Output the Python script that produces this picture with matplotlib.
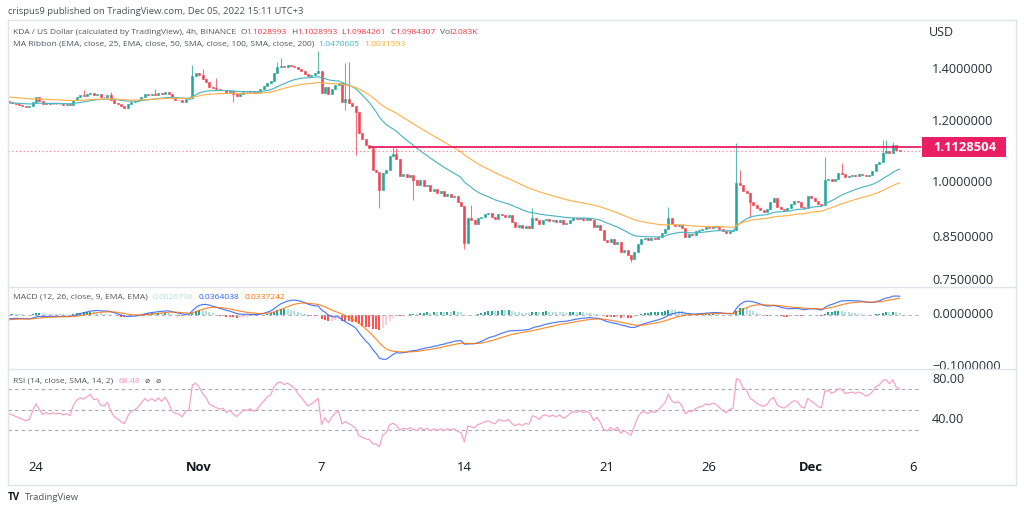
import numpy as np
import pandas as pd
import matplotlib
matplotlib.use("Agg")
import matplotlib.pyplot as plt
from matplotlib.transforms import blended_transform_factory as btf, Bbox
from matplotlib.lines import Line2D
from matplotlib.patches import Rectangle

# ---------------- data ----------------
START = "2022-10-22 16:00"          # first 4h candle
OPEN_FIRST = 1.275
CLOSES = [
    1.272, 1.268,                                   # Oct 22
    1.264, 1.260, 1.256, 1.252, 1.254, 1.270,       # Oct 23
    1.288, 1.275, 1.262, 1.266, 1.262, 1.265,       # Oct 24
    1.262, 1.264, 1.260, 1.262, 1.258, 1.278,       # Oct 25
    1.290, 1.296, 1.294, 1.300, 1.306, 1.298,       # Oct 26
    1.300, 1.290, 1.288, 1.296, 1.280, 1.268,       # Oct 27
    1.262, 1.255, 1.250, 1.262, 1.272, 1.275,       # Oct 28
    1.280, 1.290, 1.300, 1.296, 1.302, 1.298,       # Oct 29
    1.305, 1.300, 1.310, 1.300, 1.285, 1.280,       # Oct 30
    1.278, 1.272, 1.282, 1.285, 1.372, 1.385,       # Oct 31
    1.375, 1.360, 1.350, 1.330, 1.325, 1.320,       # Nov 1
    1.315, 1.318, 1.305, 1.312, 1.300, 1.292,       # Nov 2
    1.300, 1.310, 1.308, 1.312, 1.306, 1.310,       # Nov 3
    1.322, 1.332, 1.345, 1.352, 1.385, 1.410,       # Nov 4
    1.415, 1.410, 1.420, 1.415, 1.410, 1.400,       # Nov 5
    1.392, 1.382, 1.372, 1.378, 1.385, 1.395,       # Nov 6
    1.305, 1.328, 1.300, 1.322, 1.338, 1.345,       # Nov 7
    1.272, 1.282, 1.268, 1.255, 1.235, 1.160,       # Nov 8
    1.140, 1.118, 1.110, 1.040, 1.032, 0.978,       # Nov 9
    1.030, 1.040, 1.082, 1.090, 1.072, 1.020,       # Nov 10
    1.028, 1.018, 1.025, 1.010, 0.995, 1.008,       # Nov 11
    0.990, 0.995, 0.975, 0.982, 0.970, 0.975,       # Nov 12
    0.962, 0.968, 0.958, 0.962, 0.945, 0.935,       # Nov 13
    0.838, 0.902, 0.895, 0.886, 0.900, 0.905,       # Nov 14
    0.912, 0.915, 0.905, 0.898, 0.912, 0.908,       # Nov 15
    0.905, 0.910, 0.890, 0.878, 0.884, 0.874,       # Nov 16
    0.880, 0.876, 0.900, 0.895, 0.885, 0.896,       # Nov 17
    0.898, 0.892, 0.896, 0.890, 0.895, 0.885,       # Nov 18
    0.888, 0.895, 0.900, 0.898, 0.902, 0.897,       # Nov 19
    0.900, 0.895, 0.878, 0.884, 0.870, 0.845,       # Nov 20
    0.840, 0.846, 0.835, 0.840, 0.815, 0.820,       # Nov 21
    0.808, 0.798, 0.815, 0.835, 0.848, 0.850,       # Nov 22
    0.845, 0.850, 0.848, 0.852, 0.862, 0.872,       # Nov 23
    0.900, 0.885, 0.880, 0.884, 0.874, 0.852,       # Nov 24
    0.860, 0.858, 0.866, 0.870, 0.872, 0.878,       # Nov 25
    0.876, 0.880, 0.878, 0.872, 0.866, 0.862,       # Nov 26
    0.868, 0.870, 1.000, 0.995, 0.975, 0.970,       # Nov 27
    0.945, 0.938, 0.928, 0.922, 0.918, 0.925,       # Nov 28
    0.945, 0.955, 0.932, 0.925, 0.922, 0.928,       # Nov 29
    0.940, 0.948, 0.945, 0.932, 0.928, 0.962,       # Nov 30
    0.955, 0.948, 0.940, 0.936, 1.008, 1.012,       # Dec 1
    1.005, 1.012, 1.030, 1.028, 1.018, 1.022,       # Dec 2
    1.025, 1.022, 1.028, 1.025, 1.020, 1.024,       # Dec 3
    1.035, 1.058, 1.065, 1.092, 1.100, 1.092,       # Dec 4
    1.118, 1.1028993, 1.0984307,                    # Dec 5
]
# visible long wicks (candle index -> price)
WICK_HIGHS = {22: 1.315, 30: 1.310, 43: 1.320, 54: 1.418, 57: 1.400, 61: 1.365,
              79: 1.430, 80: 1.448, 91: 1.480, 99: 1.426, 100: 1.432, 113: 1.112,
              114: 1.110, 136: 0.937, 154: 0.929, 194: 0.930, 214: 1.126, 215: 1.040,
              240: 1.080, 245: 1.060, 257: 1.136, 258: 1.135, 260: 1.130}
WICK_LOWS = {66: 1.270, 99: 1.240, 102: 1.086, 109: 0.929, 119: 0.950,
             134: 0.822, 183: 0.790, 218: 0.905}

EMA25_START, EMA50_START = 1.266, 1.290
EMA12_START, EMA26_START, SIGNAL_START = 1.267, 1.276, -0.010
RSI_GAIN_START, RSI_LOSS_START = 0.0050, 0.0056

LEVEL = 1.1128504
LEVEL_FROM = "2022-11-09 08:00"

PRICE_TICKS = [1.4, 1.2, 1.0, 0.85, 0.75]
PRICE_LABELS = ["1.4000000", "1.2000000", "1.0000000", "0.8500000", "0.7500000"]
MACD_TICKS = [0.0, -0.1]
MACD_LABELS = ["0.0000000", "\u22120.1000000"]
RSI_TICKS = [80, 40]
RSI_LABELS = ["80.00", "40.00"]
RSI_BANDS = [70, 50, 30]
TIME_TICKS = ["2022-10-24", "2022-11-01", "2022-11-07", "2022-11-14",
              "2022-11-21", "2022-11-26", "2022-12-01", "2022-12-06"]
TIME_LABELS = ["24", "Nov", "7", "14", "21", "26", "Dec", "6"]
TIME_BOLD = ["Nov", "Dec"]

# ---------------- computations ----------------
c = np.array(CLOSES)
n = len(c)
o = np.concatenate([[OPEN_FIRST], c[:-1]])
hi = np.maximum(o, c)
lo = np.minimum(o, c)
for k, v in WICK_HIGHS.items():
    hi[k] = max(hi[k], v)
for k, v in WICK_LOWS.items():
    lo[k] = min(lo[k], v)
x = np.arange(n)
t0 = pd.Timestamp(START)
step = pd.Timedelta(hours=4)
def tx(s):
    return (pd.Timestamp(s) - t0) / step

def ema(series, length, start):
    a = 2.0 / (length + 1)
    out = np.empty(len(series))
    prev = start
    for i, v in enumerate(series):
        prev = prev + a * (v - prev)
        out[i] = prev
    return out

ema25 = ema(c, 25, EMA25_START)
ema50 = ema(c, 50, EMA50_START)
macd = ema(c, 12, EMA12_START) - ema(c, 26, EMA26_START)
signal = ema(macd, 9, SIGNAL_START)
hist = macd - signal

diff = np.diff(np.concatenate([[OPEN_FIRST], c]))
g, l = RSI_GAIN_START, RSI_LOSS_START
rsi = np.empty(n)
for i, d in enumerate(diff):
    g = (g * 13 + max(d, 0)) / 14
    l = (l * 13 + max(-d, 0)) / 14
    rsi[i] = 100 - 100 / (1 + g / l)

# ---------------- layout ----------------
W, H = 1024, 511
fig = plt.figure(figsize=(W / 100, H / 100), dpi=100)
fig.patch.set_facecolor("white")
FONT = ["Open Sans", "DejaVu Sans"]
plt.rcParams["font.family"] = FONT

def fx(px): return px / W
def fy(py): return 1 - py / H

PL, PR = 8, 921
def add_ax(top, bottom):
    a = fig.add_axes([fx(PL), fy(bottom), fx(PR) - fx(PL), (bottom - top) / H])
    a.set_axis_off()
    a.set_xlim((PL - 8.8) / 3.4, (PR - 8.8) / 3.4)
    return a

ax = add_ax(20, 287)
axm = add_ax(287, 369)
axr = add_ax(369, 455)

# price pane (log scale)
PXLN, Y1 = 337.6, 182.9
ax.set_yscale("log")
ax.set_ylim(np.exp((Y1 - 287) / PXLN), np.exp((Y1 - 20) / PXLN))

UP, DN = "#26A69A", "#F04452"
cols = np.where(c >= o, UP, DN)
ax.vlines(x, lo, hi, colors=cols, lw=0.8, alpha=0.75)
ax.bar(x, np.abs(c - o), bottom=np.minimum(o, c), width=0.62,
       color=cols, edgecolor=cols, linewidth=0.4)
ax.plot(x, ema25, color="#4DB6C4", lw=0.85)
ax.plot(x, ema50, color="#FFB14E", lw=0.85)
ax.axhline(c[-1], color="#F7525F", lw=0.8, ls=(0, (1.2, 2.2)), alpha=0.7)
ax.hlines(LEVEL, tx(LEVEL_FROM), (PR - 8.8) / 3.4, color="#E91E63", lw=1.3)

# MACD pane
axm.set_ylim(-0.1044, 0.0533)
hcol = []
for i, h in enumerate(hist):
    prev = hist[i - 1] if i > 0 else h
    if h >= 0:
        hcol.append("#26A69A" if h > prev else "#B2DFDB")
    else:
        hcol.append("#FFCDD2" if h > prev else "#FF5252")
axm.bar(x, hist, width=0.62, color=hcol)
axm.axhline(0, color="#B2B5BE", lw=0.8, ls=(0, (3, 3)))
axm.plot(x, macd, color="#2962FF", lw=0.85, alpha=0.85)
axm.plot(x, signal, color="#FF6D00", lw=0.85, alpha=0.8)

# RSI pane
axr.set_ylim(5.4, 90)
for b in RSI_BANDS:
    axr.axhline(b, color="#A3A6AF", lw=0.8, ls=(0, (3, 3)))
axr.plot(x, rsi, color="#F5A3BF", lw=0.9)

# frame lines
FR = "#E0E3EB"
for (x0, y0, x1, y1) in [(8, 20, 1016, 20), (8, 287, 1016, 287), (8, 369, 1016, 369),
                         (8, 485, 1016, 485), (8, 20, 8, 485), (1016, 20, 1016, 485)]:
    fig.add_artist(Line2D([fx(x0), fx(x1)], [fy(y0), fy(y1)], transform=fig.transFigure,
                          color=FR, lw=1))

TXT = "#2A2E39"
AXX = fx(932)
AXFS = 9.1
for v, s in zip(PRICE_TICKS, PRICE_LABELS):
    ax.text(AXX, v, s, transform=btf(fig.transFigure, ax.transData), fontsize=AXFS,
            color=TXT, va="center", ha="left", clip_on=False)
clipbox = Bbox([[921, H - 369], [1016, H - 287]])
for v, s in zip(MACD_TICKS, MACD_LABELS):
    t = axm.text(AXX, v, s, transform=btf(fig.transFigure, axm.transData), fontsize=AXFS,
                 color=TXT, va="center", ha="left")
    t.set_clip_on(True)
    t.set_clip_box(clipbox)
for v, s in zip(RSI_TICKS, RSI_LABELS):
    axr.text(AXX, v, s, transform=btf(fig.transFigure, axr.transData), fontsize=AXFS,
             color=TXT, va="center", ha="left", clip_on=False)
fig.text(fx(929), fy(32), "USD", fontsize=9, color=TXT, va="center", ha="left")

# current level label
fig.add_artist(Rectangle((fx(922), fy(157)), fx(1006) - fx(922), 20 / H,
                         transform=fig.transFigure, color="#E91E63", lw=0))
fig.text(fx(965), fy(147), f"{LEVEL:.7f}", fontsize=9.4, color="white",
         fontweight="bold", va="center", ha="center")

# time axis
for d, s in zip(TIME_TICKS, TIME_LABELS):
    axr.text(tx(d), fy(467), s, transform=btf(axr.transData, fig.transFigure),
             fontsize=9.4, color="#131722", ha="center", va="center",
             fontweight="bold" if s in TIME_BOLD else "normal", clip_on=False)

# legends
fig.canvas.draw()
R = fig.canvas.get_renderer()
def chain(xp, yp, parts, size=6.1):
    for text, color, gap in parts:
        xp += gap
        t = fig.text(fx(xp), fy(yp), text, color=color, fontsize=size, va="center", ha="left")
        xp = t.get_window_extent(renderer=R).x1
    return xp

G = "#50535E"
RED = "#F23645"
chain(8, 11, [("crispus9 published on TradingView.com, Dec 05, 2022 15:11 UTC+3", G, 0)], 6.8)
chain(13, 32, [("KDA / US Dollar (calculated by TradingView), 4h, BINANCE", G, 0),
               ("O", G, 4), ("1.1028993", RED, 0), ("H", G, 4), ("1.1028993", RED, 0),
               ("L", G, 4), ("1.0984261", RED, 0), ("C", G, 4), ("1.0984307", RED, 0),
               ("Vol", G, 4), ("2.083K", RED, 0)], 6.0)
chain(13, 44, [("MA Ribbon (EMA, close, 25, EMA, close, 50, SMA, close, 100, SMA, close, 200)", G, 0),
               ("1.0470605", "#3FB3C5", 4), ("1.0031593", "#FFA726", 5)])
chain(13, 297, [("MACD (12, 26, close, 9, EMA, EMA)", G, 0), ("0.0026796", "#B2DFDB", 5),
                ("0.0364038", "#2962FF", 5), ("0.0337242", "#FF6D00", 5)])
chain(13, 381.5, [("RSI (14, close, SMA, 14, 2)", G, 0), ("68.48", "#F48FB1", 5),
                  ("\u00f8", G, 5), ("\u00f8", G, 5)])

fig.text(fx(8), fy(497), "TV", fontsize=7, color="#131722", fontweight="bold",
         va="center", ha="left")
fig.text(fx(25), fy(497), "TradingView", fontsize=6.8, color="#50535E", va="center", ha="left")

fig.savefig("out.png", dpi=100, facecolor="white")
